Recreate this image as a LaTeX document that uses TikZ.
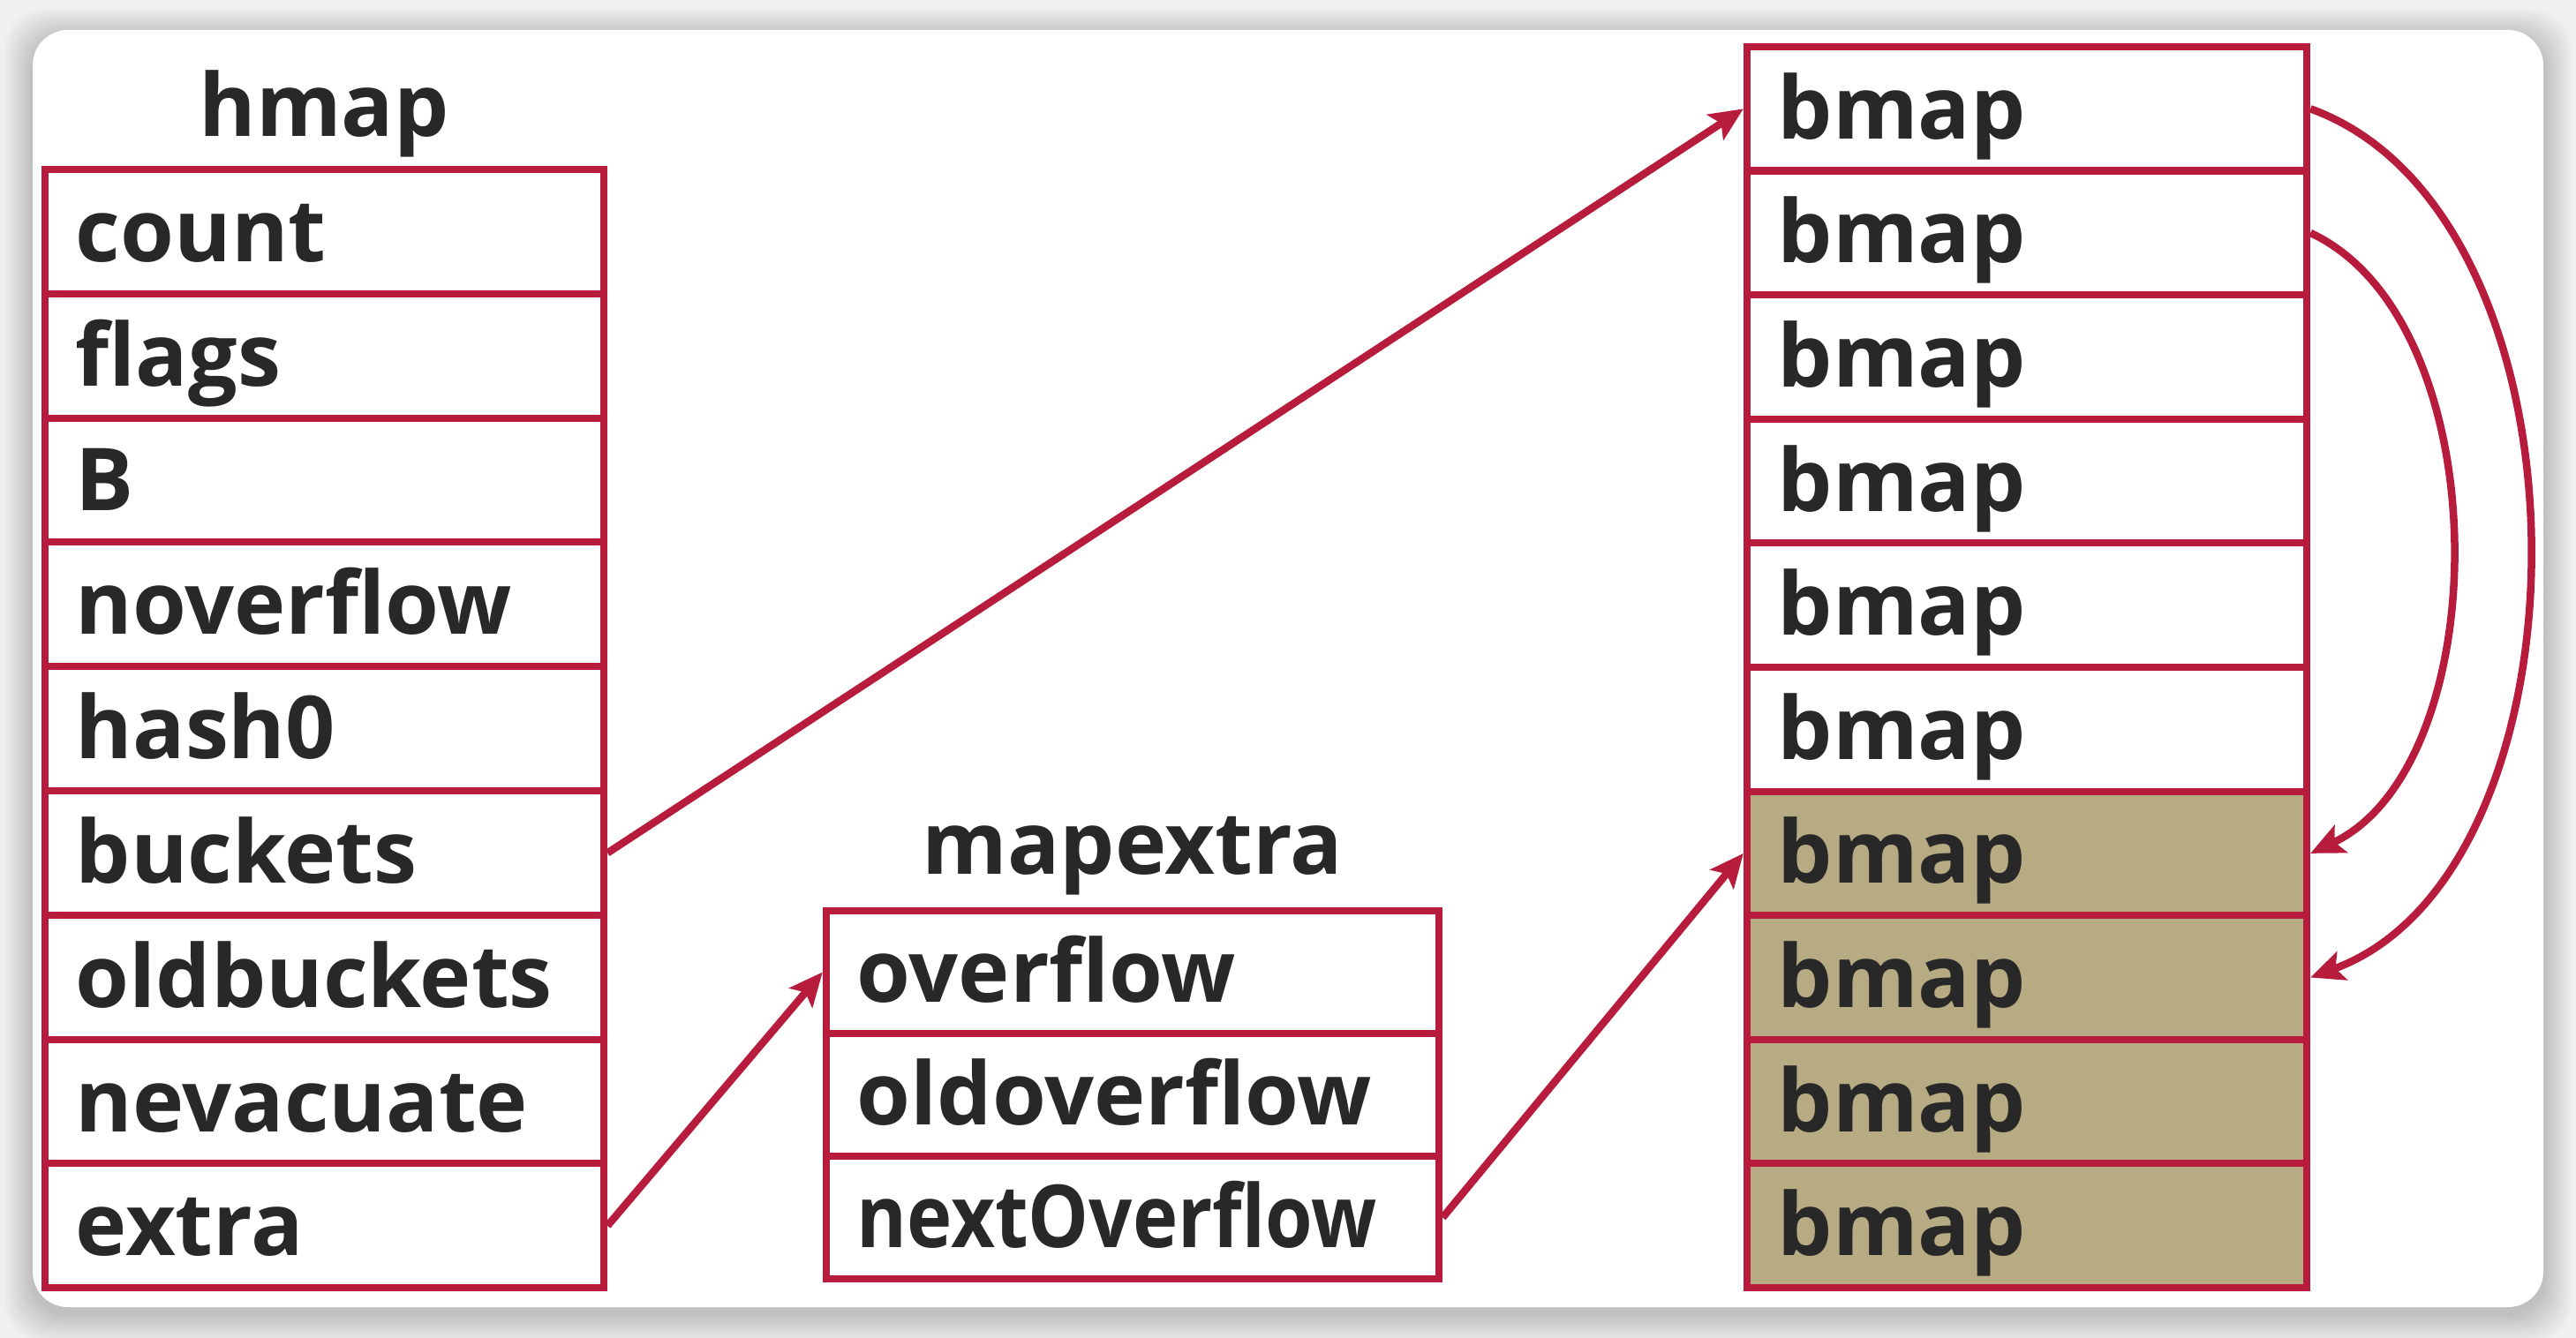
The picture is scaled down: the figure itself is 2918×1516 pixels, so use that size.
\documentclass[tikz,border=0pt]{standalone}
\usepackage{fontspec}
\setmainfont{Open Sans}
\usetikzlibrary{arrows.meta}
\definecolor{crim}{RGB}{184,28,60}
\definecolor{olive}{RGB}{182,171,130}
\definecolor{txt}{RGB}{40,40,40}
\definecolor{bg}{RGB}{240,240,240}
\tikzset{
  cellbase/.style={draw=crim, line width=0.08cm, inner ysep=0pt, inner xsep=0.35cm,
    minimum height=1.407cm, text height=0.9cm, text depth=0.22cm, align=left,
    font=\fontsize{28}{32}\selectfont\bfseries, text=txt},
  hcell/.style={cellbase, text width=5.63cm, minimum width=6.33cm},
  mcell/.style={cellbase, text width=6.24cm, minimum width=6.94cm, minimum height=1.39cm},
  bcell/.style={cellbase, text width=5.64cm, minimum width=6.34cm, fill=white},
  ocell/.style={bcell, fill=olive},
  title/.style={anchor=base, font=\fontsize{28}{32}\selectfont\bfseries, text=txt, inner sep=0pt},
  conn/.style={draw=crim, line width=0.085cm, -{Stealth[length=0.38cm,width=0.34cm,inset=0.08cm]}}
}
\begin{document}
\begin{tikzpicture}[x=0.01cm,y=-0.01cm]
\useasboundingbox (0,0) rectangle (2918,1516);
\fill[bg] (0,0) rectangle (2918,1516);
% shadow
\foreach \k in {1,...,16}{
  \fill[black, opacity=0.01, rounded corners=0.45cm]
    ({37-2*\k},{34-2*\k+8}) rectangle ({2881+2*\k},{1481+2*\k+8});
}
\fill[white, rounded corners=0.4cm] (37,34) rectangle (2881,1481);

% hmap
\node[title] (hmapt) at (367,155) {hmap};
\foreach \t [count=\i from 0] in {count,flags,B,noverflow,hash0,buckets,oldbuckets,nevacuate,extra}{
  \node[hcell] (h\i) at (367.5,{192+(\i+0.5)*140.8}) {\t};
}

% mapextra
\node[title] (mapt) at (1283,990) {mapextra};
\node[mcell] (m0) at (1283,1101.5) {overflow};
\node[mcell] (m1) at (1283,1240.5) {oldoverflow};
\node[mcell] (m2) at (1283,1379.5) {\scalebox{0.88}[1]{nextOverflow}};

% bmap column
\foreach \i in {0,...,5}{
  \node[bcell] (b\i) at (2296,{53+(\i+0.5)*140.6}) {bmap};
}
\foreach \i in {6,...,9}{
  \node[ocell] (b\i) at (2296,{53+(\i+0.5)*140.6}) {bmap};
}

% connectors
\draw[conn] (h5.east) -- (b0.west);
\draw[conn] (h8.east) -- (m0.west);
\draw[conn] (m2.east) -- (b6.west);
\draw[conn] (b0.east) .. controls +(331,120) and +(328,-120) .. (b7.east);
\draw[conn] (b1.east) .. controls +(215,100) and +(212,-100) .. (b6.east);
\end{tikzpicture}
\end{document}
